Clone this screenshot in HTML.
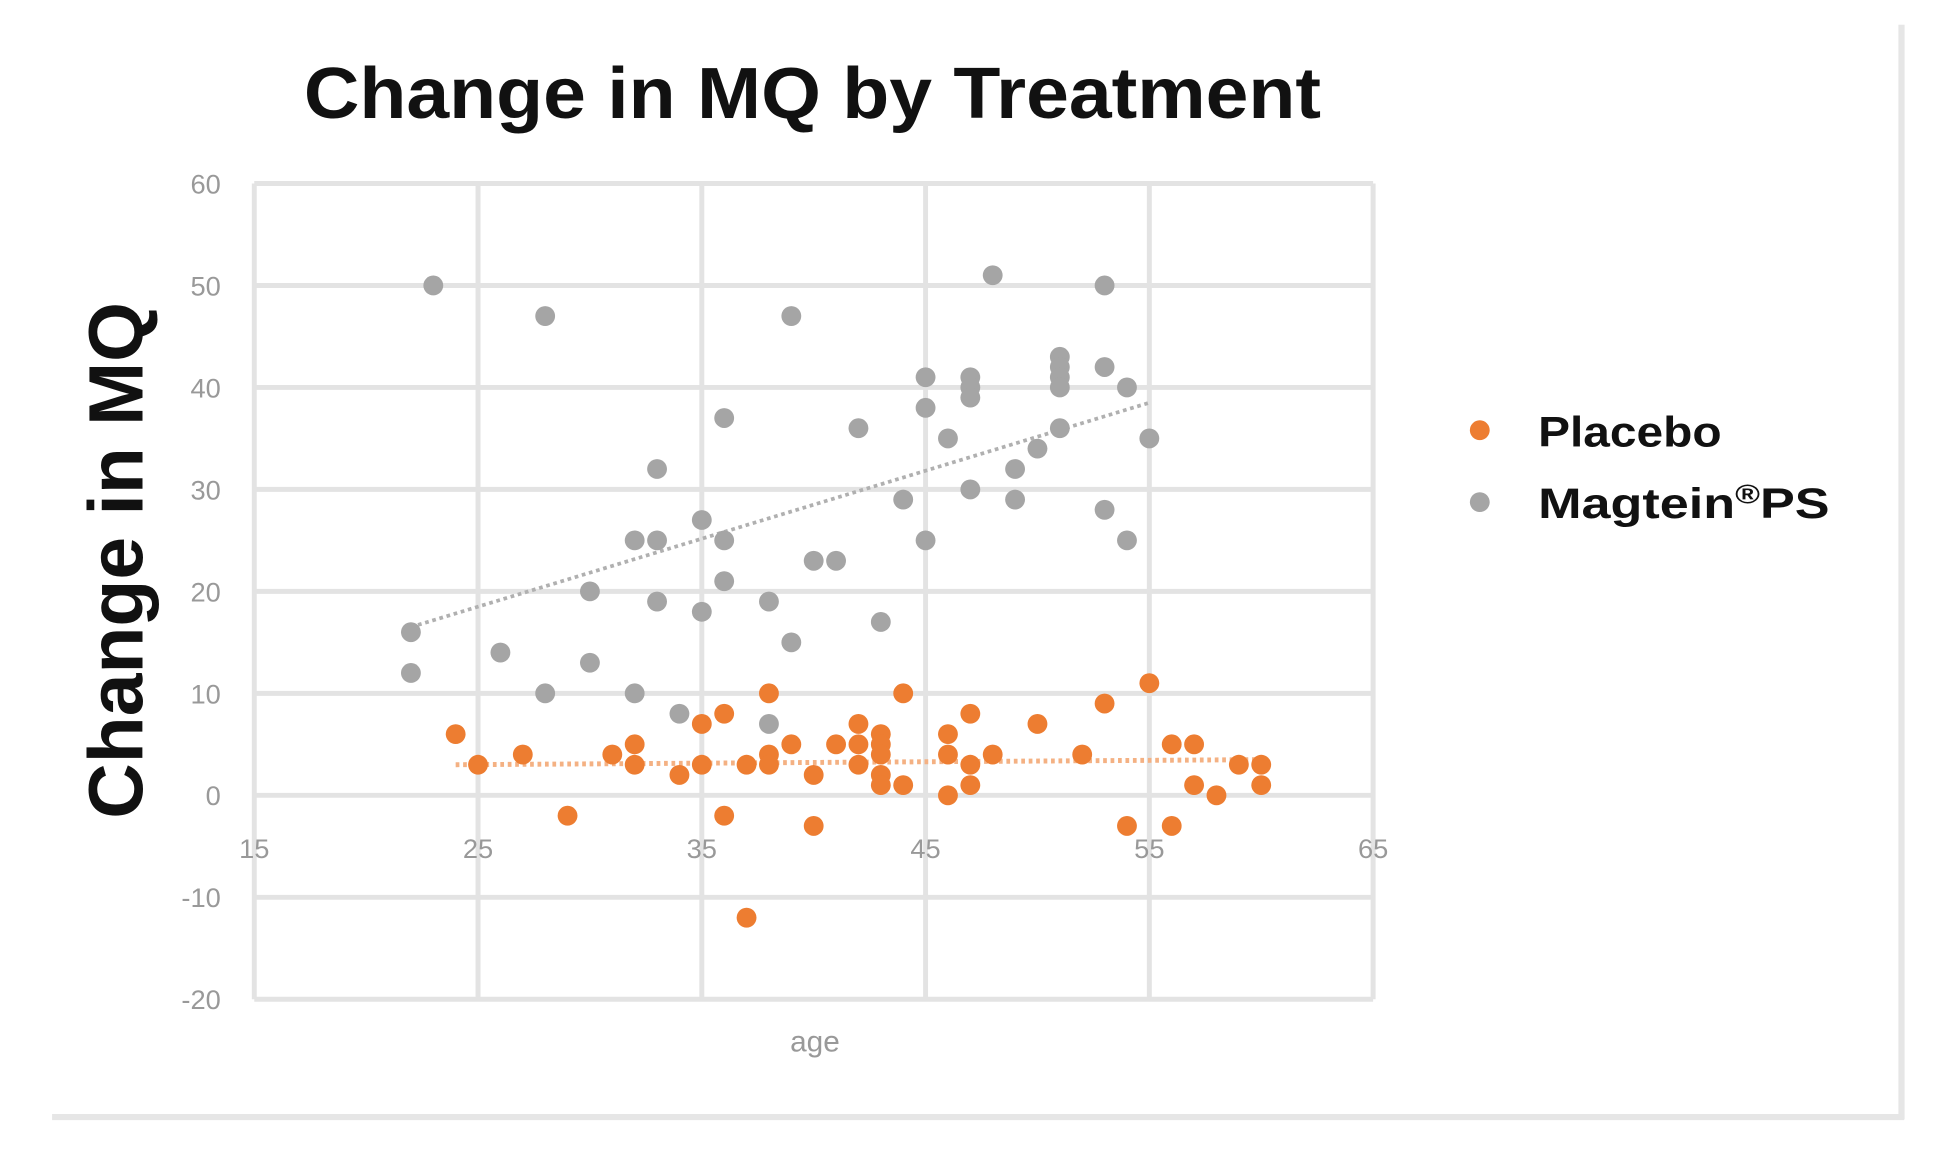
<!DOCTYPE html>
<html><head><style>html,body{margin:0;padding:0;background:#fff}svg{display:block}</style></head>
<body>
<svg id="s" width="1935" height="1153" viewBox="0 0 1560 930" preserveAspectRatio="none" xmlns="http://www.w3.org/2000/svg" font-family="Liberation Sans, sans-serif">
<rect width="1560" height="930" fill="#fff"/>
<line x1="1533" y1="20" x2="1533" y2="903" stroke="#e6e6e6" stroke-width="5"/>
<line x1="42" y1="901" x2="1535" y2="901" stroke="#e6e6e6" stroke-width="5"/>
<text x="245" y="95" textLength="820" lengthAdjust="spacingAndGlyphs" font-size="58" font-weight="bold" fill="#111">Change in MQ by Treatment</text>
<text transform="translate(115,452) rotate(-90)" text-anchor="middle" font-size="62" font-weight="bold" fill="#111">Change in MQ</text>
<g id="g"></g>
<circle cx="1193" cy="347" r="8" fill="#ed7d31"/>
<text x="1240" y="360" textLength="148" lengthAdjust="spacingAndGlyphs" font-size="34" font-weight="bold" fill="#111">Placebo</text>
<circle cx="1193" cy="405" r="8" fill="#a5a5a5"/>
<text x="1240" y="418" font-size="34" font-weight="bold" fill="#111" textLength="235" lengthAdjust="spacingAndGlyphs">Magtein<tspan font-size="22" dy="-12">®</tspan><tspan dy="12">PS</tspan></text>
<text x="657" y="848" text-anchor="middle" font-size="24" fill="#999">age</text>
</svg>
<script>
var g=document.getElementById('g'),ns='http://www.w3.org/2000/svg';
function X(a){return 205+(a-15)*18.04}function Y(v){return 641.5-v*8.225}
function el(t,o){var e=document.createElementNS(ns,t);for(var k in o)e.setAttribute(k,o[k]);g.appendChild(e);return e}
for(var v=-20;v<=60;v+=10){el('line',{x1:205,x2:1107,y1:Y(v),y2:Y(v),stroke:'#e3e3e3','stroke-width':4});var t=el('text',{x:178,y:Y(v)+8,'text-anchor':'end','font-size':22,fill:'#999'});t.textContent=v;}
for(var a=15;a<=65;a+=10){el('line',{x1:X(a),x2:X(a),y1:Y(60),y2:Y(-20),stroke:'#e3e3e3','stroke-width':4});var t=el('text',{x:X(a),y:692,'text-anchor':'middle','font-size':22,fill:'#999'});t.textContent=a;}
var gr=[[23,50],[28,47],[39,47],[48,51],[53,50],[45,41],[47,41],[47,40],[47,39],[51,43],[51,42],[51,41],[51,40],[53,42],[54,40],[45,38],[36,37],[42,36],[51,36],[46,35],[55,35],[50,34],[33,32],[49,32],[44,29],[49,29],[47,30],[53,28],[54,25],[45,25],[35,27],[32,25],[33,25],[36,25],[40,23],[41,23],[36,21],[30,20],[33,19],[38,19],[35,18],[43,17],[22,16],[39,15],[26,14],[30,13],[22,12],[28,10],[32,10],[34,8],[38,7]];
var or=[[24,6],[25,3],[27,4],[29,-2],[31,4],[32,5],[32,3],[34,2],[35,7],[35,3],[36,8],[36,-2],[37,-12],[37,3],[38,10],[38,4],[38,3],[39,5],[40,2],[40,-3],[41,5],[42,7],[42,5],[42,3],[43,6],[43,5],[43,4],[43,2],[43,1],[44,10],[44,1],[46,6],[46,4],[46,0],[47,8],[47,3],[47,1],[48,4],[50,7],[52,4],[53,9],[54,-3],[55,11],[56,5],[56,-3],[57,5],[57,1],[58,0],[59,3],[60,3],[60,1]];
el('line',{x1:X(22),y1:Y(16.5),x2:X(55),y2:Y(38.5),stroke:'#b0b0b0','stroke-width':3,'stroke-dasharray':'3 3'});
gr.forEach(function(p){el('circle',{cx:X(p[0]),cy:Y(p[1]),r:8,fill:'#a5a5a5'})});
el('line',{x1:X(24),y1:Y(3),x2:X(60),y2:Y(3.5),stroke:'#f4b183','stroke-width':4,'stroke-dasharray':'3 3'});
or.forEach(function(p){el('circle',{cx:X(p[0]),cy:Y(p[1]),r:8,fill:'#ed7d31'})});
</script>
</body></html>
